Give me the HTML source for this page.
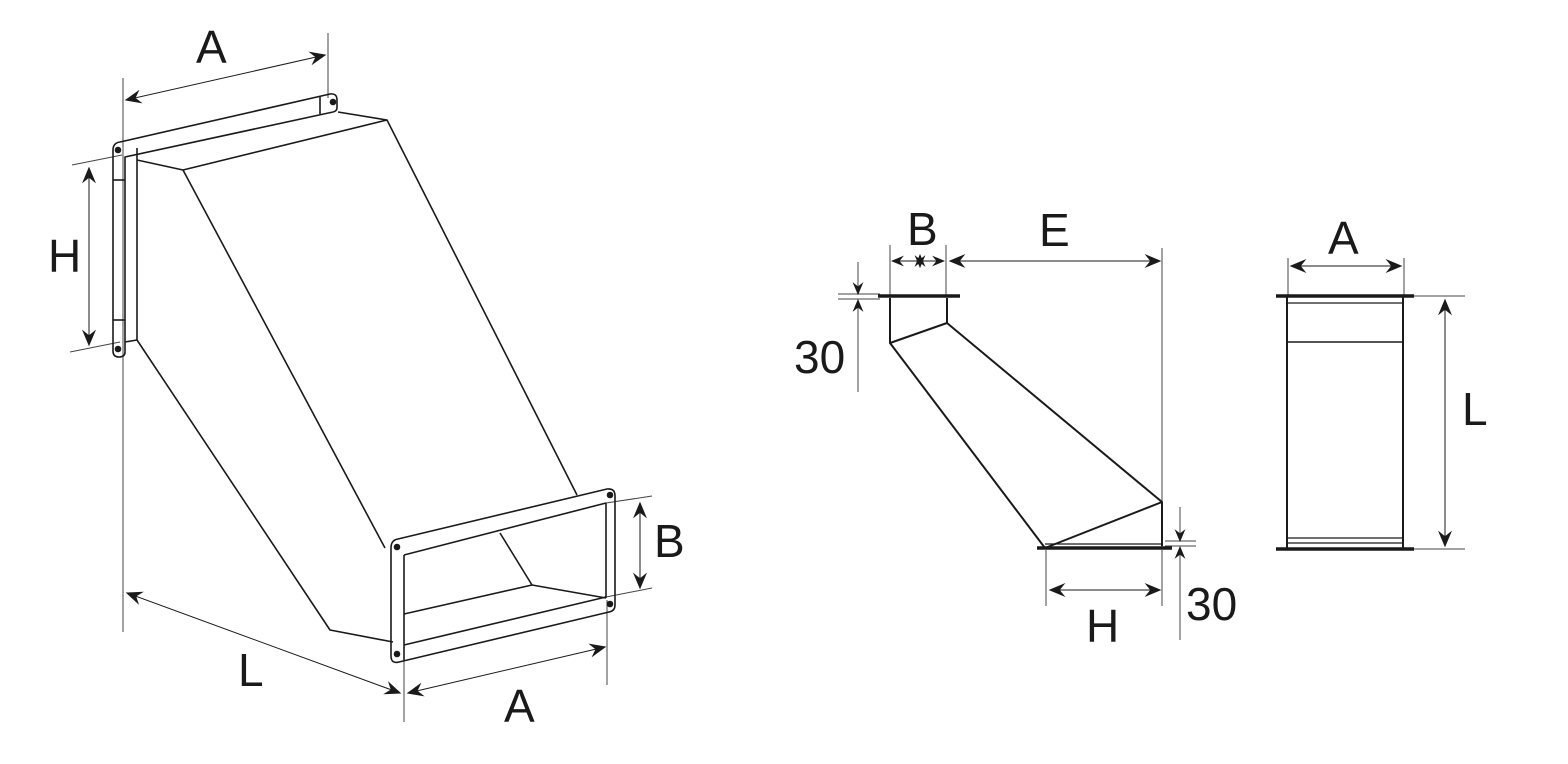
<!DOCTYPE html>
<html><head><meta charset="utf-8"><style>
html,body{margin:0;padding:0;background:#fff;}
svg{display:block;}
text{font-family:"Liberation Sans",sans-serif;fill:#1a1a1a;font-size:46px;}
</style></head><body>
<svg width="1568" height="764" viewBox="0 0 1568 764" xmlns="http://www.w3.org/2000/svg">
<defs>
<marker id="ar" viewBox="0 0 12 10" refX="11" refY="5" markerWidth="18" markerHeight="14" markerUnits="userSpaceOnUse" orient="auto-start-reverse">
<path d="M0,0 L12,5 L0,10 L4,5 Z" fill="#1a1a1a"/></marker>
<marker id="ars" viewBox="0 0 12 10" refX="11" refY="5" markerWidth="13" markerHeight="11" markerUnits="userSpaceOnUse" orient="auto-start-reverse">
<path d="M0,0 L12,5 L0,10 L4,5 Z" fill="#1a1a1a"/></marker>
</defs>
<g fill="none" stroke="#1a1a1a" stroke-width="1.6" stroke-linejoin="round">
<g stroke-width="1" stroke="#444">
<line x1="123" y1="78" x2="123" y2="632"/>
<line x1="328" y1="33" x2="328" y2="98"/>
<line x1="72" y1="165" x2="122" y2="155"/>
<line x1="70" y1="352" x2="120" y2="342"/>
<line x1="606" y1="503" x2="652" y2="496"/>
<line x1="606" y1="597" x2="652" y2="588"/>
<line x1="404" y1="660" x2="404" y2="722"/>
<line x1="607" y1="600" x2="607" y2="685"/>
</g>
<line x1="126" y1="100" x2="325" y2="55" stroke-width="1" marker-start="url(#ar)" marker-end="url(#ar)"/>
<line x1="89" y1="168" x2="89" y2="345" stroke-width="1" marker-start="url(#ar)" marker-end="url(#ar)"/>
<line x1="640" y1="503" x2="640" y2="588" stroke-width="1" marker-start="url(#ar)" marker-end="url(#ar)"/>
<line x1="408" y1="693" x2="605" y2="647" stroke-width="1" marker-start="url(#ar)" marker-end="url(#ar)"/>
<line x1="127" y1="593" x2="400" y2="693" stroke-width="1" marker-start="url(#ar)" marker-end="url(#ar)"/>
<path d="M113,150 Q113,143 120,142 L330,94 Q337,93 337,100 L337,108 Q337,111 333,112 L125,157 L125,352 Q125,357 119,357 Q113,357 113,351 Z"/>
<line x1="320" y1="97" x2="320" y2="114"/>
<line x1="137" y1="148" x2="137" y2="160"/>
<line x1="113" y1="180" x2="125" y2="180"/>
<line x1="113" y1="320" x2="125" y2="320"/>
<circle cx="118" cy="150" r="2.5" fill="#1a1a1a"/>
<circle cx="333" cy="102" r="2.5" fill="#1a1a1a"/>
<circle cx="118" cy="349" r="2.5" fill="#1a1a1a"/>
<line x1="137" y1="160" x2="137" y2="340"/>
<path d="M137,160 L183,170 L387,120 L338,112"/>
<path d="M183,170 L385,548"/>
<path d="M387,120 L577,495"/>
<path d="M125,342 L137,340 L330,630 L393,642"/>
<path d="M500,533 L532,585 L606,598"/>
<path d="M404,614 L532,585"/>
<path d="M391,548 Q391,540 398,539 L607,489 Q615,488 615,496 L615,605 Q615,611 609,612 L399,662 Q391,664 391,656 Z"/>
<line x1="404" y1="555" x2="606" y2="503"/>
<line x1="404" y1="645" x2="606" y2="597"/>
<line x1="404" y1="555" x2="404" y2="660"/>
<line x1="606" y1="503" x2="606" y2="598"/>
<circle cx="397" cy="547" r="2.5" fill="#1a1a1a"/>
<circle cx="610" cy="495" r="2.5" fill="#1a1a1a"/>
<circle cx="610" cy="604" r="2.5" fill="#1a1a1a"/>
<circle cx="397" cy="654" r="2.5" fill="#1a1a1a"/>

<g stroke-width="1" stroke="#444">
<line x1="890" y1="245" x2="890" y2="296"/>
<line x1="946" y1="245" x2="946" y2="296"/>
<line x1="1162" y1="248" x2="1162" y2="548"/>
<line x1="838" y1="294" x2="880" y2="294"/>
<line x1="838" y1="299" x2="880" y2="299"/>
<line x1="858" y1="262" x2="858" y2="294" marker-end="url(#ars)"/>
<line x1="858" y1="392" x2="858" y2="300" marker-end="url(#ars)"/>
<line x1="1165" y1="541" x2="1196" y2="541"/>
<line x1="1165" y1="546" x2="1196" y2="546"/>
<line x1="1180" y1="507" x2="1180" y2="541" marker-end="url(#ars)"/>
<line x1="1180" y1="640" x2="1180" y2="547" marker-end="url(#ars)"/>
<line x1="1046" y1="550" x2="1046" y2="606"/>
<line x1="1162" y1="550" x2="1162" y2="606"/>
</g>
<line x1="892" y1="261" x2="944" y2="261" stroke-width="1" marker-start="url(#ars)" marker-end="url(#ars)"/>
<line x1="920" y1="255" x2="920" y2="267" stroke-width="1" marker-start="url(#ars)" marker-end="url(#ars)"/>
<line x1="950" y1="261" x2="1160" y2="261" stroke-width="1" marker-start="url(#ar)" marker-end="url(#ar)"/>
<line x1="1050" y1="590" x2="1160" y2="590" stroke-width="1" marker-start="url(#ar)" marker-end="url(#ar)"/>
<line x1="878" y1="296" x2="960" y2="296" stroke-width="3.5"/>
<path d="M890,298 L890,343 L947,323 L947,298" stroke-width="2"/>
<path d="M890,343 L1045,548 L1162,502 L947,323" stroke-width="2"/>
<line x1="1162" y1="502" x2="1162" y2="546" stroke-width="2"/>
<line x1="1037" y1="548" x2="1172" y2="548" stroke-width="3.5"/>
<line x1="1045" y1="544" x2="1162" y2="544" stroke-width="1.2"/>

<g stroke-width="1" stroke="#444">
<line x1="1288" y1="258" x2="1288" y2="296"/>
<line x1="1404" y1="258" x2="1404" y2="296"/>
<line x1="1414" y1="296" x2="1465" y2="296"/>
<line x1="1414" y1="549" x2="1465" y2="549"/>
</g>
<line x1="1291" y1="266" x2="1401" y2="266" stroke-width="1" marker-start="url(#ar)" marker-end="url(#ar)"/>
<line x1="1445" y1="300" x2="1445" y2="546" stroke-width="1" marker-start="url(#ar)" marker-end="url(#ar)"/>
<line x1="1276" y1="296" x2="1414" y2="296" stroke-width="3.5"/>
<line x1="1276" y1="549" x2="1414" y2="549" stroke-width="3.5"/>
<rect x="1287" y="296" width="116" height="253" stroke-width="2"/>
<line x1="1287" y1="303" x2="1403" y2="303" stroke-width="1.2"/>
<line x1="1287" y1="342" x2="1403" y2="342" stroke-width="1.4"/>
<line x1="1287" y1="538" x2="1403" y2="538" stroke-width="1.2"/>
<line x1="1287" y1="543" x2="1403" y2="543" stroke-width="1.2"/>
</g>
<text x="196" y="63">A</text>
<text x="48" y="272">H</text>
<text x="654" y="557">B</text>
<text x="504" y="722">A</text>
<text x="238" y="686">L</text>
<text x="907" y="245">B</text>
<text x="1039" y="246">E</text>
<text x="794" y="373">30</text>
<text x="1186" y="620">30</text>
<text x="1086" y="642">H</text>
<text x="1328" y="254">A</text>
<text x="1462" y="425">L</text>
</svg>
</body></html>
